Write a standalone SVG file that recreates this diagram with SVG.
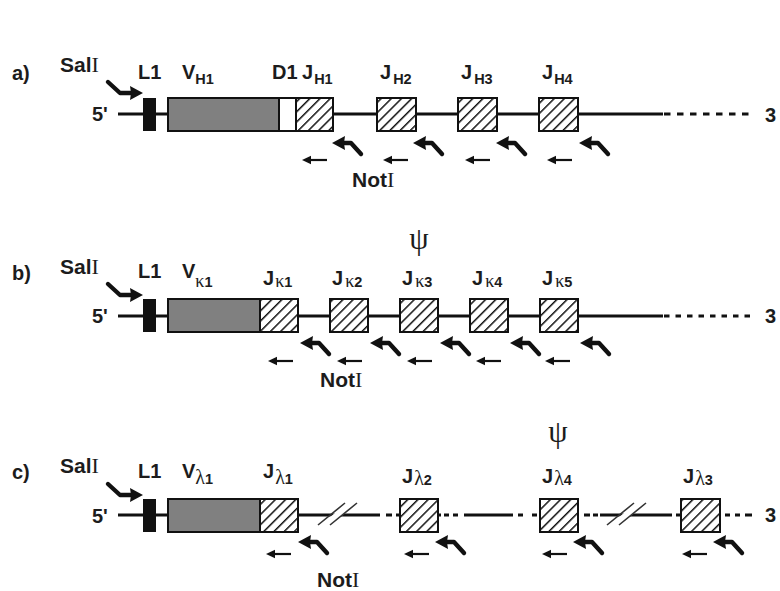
<svg xmlns="http://www.w3.org/2000/svg" width="780" height="591" viewBox="0 0 780 591">
<style>
  .t{font-family:"Liberation Sans",Arial,sans-serif;font-weight:bold;font-size:20px;fill:#1c1c1c}
  .big{font-size:21px}
  .sub{font-size:14.5px}
  .gr{font-family:"Liberation Serif","Times New Roman",serif;font-weight:normal}
  .psi{font-family:"Liberation Serif","Times New Roman",serif;font-size:31px;fill:#1c1c1c;text-anchor:middle}
  .ln{stroke:#111;stroke-width:3;fill:none}
  .dash{stroke:#111;stroke-width:3;fill:none}
  .box{stroke:#111;stroke-width:2}
  .v{fill:#808080}
  .h{fill:url(#hatch)}
  .w{fill:#fff}
  .k{fill:#111}
  .sl{stroke:#333;stroke-width:1.6;fill:none}
</style>
<defs>
  <pattern id="hatch" patternUnits="userSpaceOnUse" width="7.2" height="7.2" patternTransform="rotate(45)">
    <rect width="7.2" height="7.2" fill="#fff"/>
    <line x1="0" y1="0" x2="0" y2="7.2" stroke="#111" stroke-width="3"/>
  </pattern>
  <g id="bent">
    <path d="M9 0 H19 L29 11" fill="none" stroke="#111" stroke-width="4.4" stroke-linejoin="round" stroke-linecap="round"/>
    <path d="M0 0 L13 -7 L12 0 L13 7 Z" fill="#111"/>
  </g>
  <g id="sm">
    <path d="M6 0 H25" stroke="#111" stroke-width="2.2"/>
    <path d="M0 0 L9 -4.2 L9 4.2 Z" fill="#111"/>
  </g>
  <g id="sal">
    <path d="M-35 -11 L-23 0 H-10" fill="none" stroke="#111" stroke-width="4.4" stroke-linejoin="round" stroke-linecap="round"/>
    <path d="M0 0 L-13 -7 L-12 0 L-13 7 Z" fill="#111"/>
  </g>
</defs>
<rect width="780" height="591" fill="#fff"/>

<!-- connectors / DNA lines -->
<g id="connectors">
  <!-- row a -->
  <path class="ln" d="M118 114 H143 M156 114 H168 M333 114 H377 M416 114 H458 M497 114 H539 M578 114 H663"/>
  <path class="dash" d="M664 114 H752" stroke-dasharray="6.5 6.5"/>
  <!-- row b -->
  <path class="ln" d="M118 316 H143 M156 316 H168 M298 316 H330 M368 316 H400 M438 316 H470 M508 316 H540 M578 316 H663"/>
  <path class="dash" d="M664 316 H752" stroke-dasharray="5.5 6"/>
  <!-- row c -->
  <path class="ln" d="M118 515 H143 M156 515 H168 M298 515 H380 M386 515 H392 M396 515 H400 M438 515 H441 M444 515 H449 M453 515 H458 M464 515 H513 M518 515 H523 M532 515 H537 M584 515 H590 M593 515 H598 M600 515 H672 M676 515 H681 M725 515 H730 M735 515 H740 M745 515 H752"/>
  <!-- breaks -->
  <polygon points="321,524 331,524 354,506 344,506" fill="#fff"/>
  <path class="sl" d="M318 525 L345 503 M330 525 L357 503"/>
  <polygon points="610,524 620,524 643,506 633,506" fill="#fff"/>
  <path class="sl" d="M607 525 L634 503 M619 525 L646 503"/>
</g>

<!-- ROW A -->
<g id="row-a">
  <text class="t" x="12" y="80">a)</text>
  <g id="a-sali"><text class="t big" x="60" y="72">Sal<tspan class="gr" font-weight="bold" font-size="22">I</tspan></text><use href="#sal" x="143" y="93"/></g>
  <text class="t" x="92" y="121">5'</text>
  <g id="a-l1"><rect class="k" x="143" y="98" width="13" height="33"/><text class="t" x="138" y="79">L1</text></g>
  <g id="a-vh1"><rect class="box v" x="168" y="98" width="111" height="33"/><text class="t" x="182" y="79">V<tspan class="sub" dy="5">H1</tspan></text></g>
  <g id="a-d1"><rect class="box w" x="279" y="98" width="17" height="33"/><text class="t" x="272" y="79">D1</text></g>
  <g id="a-jh1"><rect class="box h" x="296" y="98" width="37" height="33"/><text class="t" x="302" y="79">J<tspan class="sub" dx="1" dy="5">H1</tspan></text></g>
  <g id="a-jh2"><rect class="box h" x="377" y="98" width="39" height="33"/><text class="t" x="380" y="79">J<tspan class="sub" dx="2" dy="5">H2</tspan></text></g>
  <g id="a-jh3"><rect class="box h" x="458" y="98" width="39" height="33"/><text class="t" x="461" y="79">J<tspan class="sub" dx="2" dy="5">H3</tspan></text></g>
  <g id="a-jh4"><rect class="box h" x="539" y="98" width="39" height="33"/><text class="t" x="542" y="79">J<tspan class="sub" dx="1" dy="5">H4</tspan></text></g>
  <text class="t" x="765" y="122">3</text>
  <g id="a-arrows">
    <use href="#bent" x="332" y="143"/><use href="#bent" x="413" y="143"/><use href="#bent" x="496" y="143"/><use href="#bent" x="579" y="143"/>
    <use href="#sm" x="302" y="160"/><use href="#sm" x="383" y="160"/><use href="#sm" x="465" y="160"/><use href="#sm" x="547" y="160"/>
  </g>
  <text class="t big" x="352" y="187">Not<tspan class="gr" font-weight="bold" font-size="22">I</tspan></text>
</g>

<!-- ROW B -->
<g id="row-b">
  <text class="t" x="12" y="280">b)</text>
  <g id="b-sali"><text class="t big" x="60" y="274">Sal<tspan class="gr" font-weight="bold" font-size="22">I</tspan></text><use href="#sal" x="143" y="295"/></g>
  <text class="t" x="92" y="323">5'</text>
  <g id="b-l1"><rect class="k" x="143" y="299" width="13" height="33"/><text class="t" x="138" y="278">L1</text></g>
  <g id="b-vk1"><rect class="box v" x="168" y="299" width="92" height="33"/><text class="t" x="182" y="278">V<tspan class="sub" dy="9"><tspan class="gr" font-size="18">κ</tspan>1</tspan></text></g>
  <g id="b-jk1"><rect class="box h" x="260" y="299" width="38" height="33"/><text class="t" x="263" y="285">J<tspan class="sub" dx="1" dy="2"><tspan class="gr" font-size="18">κ</tspan>1</tspan></text></g>
  <g id="b-jk2"><rect class="box h" x="330" y="299" width="38" height="33"/><text class="t" x="332" y="285">J<tspan class="sub" dx="2" dy="2"><tspan class="gr" font-size="18">κ</tspan>2</tspan></text></g>
  <g id="b-jk3"><rect class="box h" x="400" y="299" width="38" height="33"/><text class="t" x="402" y="285">J<tspan class="sub" dx="2" dy="2"><tspan class="gr" font-size="18">κ</tspan>3</tspan></text></g>
  <g id="b-jk4"><rect class="box h" x="470" y="299" width="38" height="33"/><text class="t" x="472" y="285">J<tspan class="sub" dx="2" dy="2"><tspan class="gr" font-size="18">κ</tspan>4</tspan></text></g>
  <g id="b-jk5"><rect class="box h" x="540" y="299" width="38" height="33"/><text class="t" x="542" y="285">J<tspan class="sub" dx="2" dy="2"><tspan class="gr" font-size="18">κ</tspan>5</tspan></text></g>
  <text class="psi" x="419" y="249">ψ</text>
  <text class="t" x="765" y="323">3</text>
  <g id="b-arrows">
    <use href="#bent" x="300" y="343"/><use href="#bent" x="370" y="343"/><use href="#bent" x="440" y="343"/><use href="#bent" x="510" y="343"/><use href="#bent" x="580" y="343"/>
    <use href="#sm" x="268" y="361"/><use href="#sm" x="337" y="361"/><use href="#sm" x="407" y="361"/><use href="#sm" x="476" y="361"/><use href="#sm" x="545" y="361"/>
  </g>
  <text class="t big" x="320" y="387">Not<tspan class="gr" font-weight="bold" font-size="22">I</tspan></text>
</g>

<!-- ROW C -->
<g id="row-c">
  <text class="t" x="12" y="479">c)</text>
  <g id="c-sali"><text class="t big" x="60" y="473">Sal<tspan class="gr" font-weight="bold" font-size="22">I</tspan></text><use href="#sal" x="143" y="495"/></g>
  <text class="t" x="92" y="523">5'</text>
  <g id="c-l1"><rect class="k" x="143" y="499" width="13" height="33"/><text class="t" x="138" y="478">L1</text></g>
  <g id="c-vl1"><rect class="box v" x="168" y="499" width="92" height="33"/><text class="t" x="182" y="478">V<tspan class="sub" dy="6"><tspan class="gr" font-size="20">λ</tspan>1</tspan></text></g>
  <g id="c-jl1"><rect class="box h" x="260" y="499" width="38" height="33"/><text class="t" x="263" y="478">J<tspan class="sub" dx="1" dy="6"><tspan class="gr" font-size="20">λ</tspan>1</tspan></text></g>
  <g id="c-jl2"><rect class="box h" x="400" y="499" width="38" height="33"/><text class="t" x="402" y="483">J<tspan class="sub" dx="1" dy="2"><tspan class="gr" font-size="20">λ</tspan>2</tspan></text></g>
  <g id="c-jl4"><rect class="box h" x="540" y="499" width="38" height="33"/><text class="t" x="542" y="483">J<tspan class="sub" dx="1" dy="2"><tspan class="gr" font-size="20">λ</tspan>4</tspan></text></g>
  <g id="c-jl3"><rect class="box h" x="681" y="499" width="39" height="33"/><text class="t" x="683" y="483">J<tspan class="sub" dx="1" dy="2"><tspan class="gr" font-size="20">λ</tspan>3</tspan></text></g>
  <text class="psi" x="558" y="442">ψ</text>
  <text class="t" x="765" y="522">3</text>
  <g id="c-arrows">
    <use href="#bent" x="298" y="542"/><use href="#bent" x="435" y="542"/><use href="#bent" x="573" y="542"/><use href="#bent" x="713" y="542"/>
    <use href="#sm" x="266" y="554"/><use href="#sm" x="404" y="554"/><use href="#sm" x="542" y="554"/><use href="#sm" x="682" y="554"/>
  </g>
  <text class="t big" x="317" y="587">Not<tspan class="gr" font-weight="bold" font-size="22">I</tspan></text>
</g>
</svg>
